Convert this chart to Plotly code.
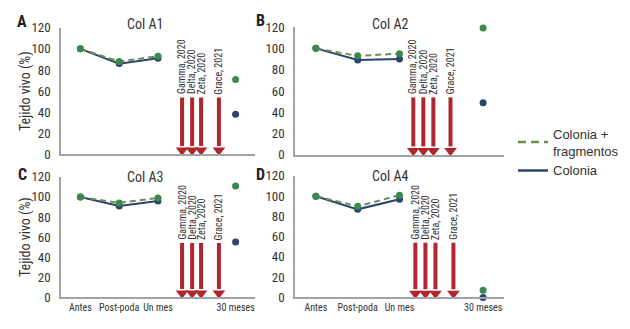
import plotly.graph_objects as go

# ---------------- data ----------------
categories = ["Antes", "Post-poda", "Un mes", "30 meses"]
cat_pos = [0, 1, 2, 4]

panels = ["Col A1", "Col A2", "Col A3", "Col A4"]
letters = ["A", "B", "C", "D"]

frag_A1 = [100, 88, 93, 71]
col_A1 = [100, 86, 91, 38]
frag_A2 = [100, 93, 95, 119]
col_A2 = [100, 89, 90, 49]
frag_A3 = [100, 94, 99, 111]
col_A3 = [100, 91, 96, 55]
frag_A4 = [100, 90, 101, 7]
col_A4 = [100, 87, 97, 0]

event_labels = ["Gamma, 2020", "Delta, 2020", "Zeta, 2020", "Grace, 2021"]
events_A1 = [2.62, 2.88, 3.11, 3.57]
events_A2 = [2.33, 2.57, 2.81, 3.22]
events_A3 = [2.62, 2.88, 3.11, 3.57]
events_A4 = [2.38, 2.62, 2.86, 3.29]

y_ticks = [0, 20, 40, 60, 80, 100, 120]

# ---------------- style ----------------
W, H = 630, 329
FONT = "Liberation Sans Narrow, Roboto Condensed, Arial Narrow, Roboto, sans-serif"
LEG_FONT = "Liberation Sans, Arial, sans-serif"
GREEN = "#3c8a4a"
OLIVE = "#6f8f52"
BLUE = "#2b4470"
RED = "#b0262c"
AXIS = "#a3a3a3"
TXT = "#333333"

def px_x(a, b):
    return [a / W, b / W]

def px_y(bottom, top):
    return [1 - bottom / H, 1 - top / H]

domains = [
    (px_x(61, 255), px_y(154.5, 21.7)),
    (px_x(295, 504), px_y(155, 21)),
    (px_x(61, 255), px_y(304, 178)),
    (px_x(295, 504), px_y(304.3, 177)),
]
frag_series = [frag_A1, frag_A2, frag_A3, frag_A4]
col_series = [col_A1, col_A2, col_A3, col_A4]
event_series = [events_A1, events_A2, events_A3, events_A4]
letter_pos = [(22, 15), (260, 14), (22, 175), (260, 176)]
title_pos = [(145, 18), (390, 18), (145, 178), (390, 177)]

fig = go.Figure()
annotations = []
shapes = []
layout = {}

for i in range(4):
    sfx = "" if i == 0 else str(i + 1)
    xa, ya = "x" + sfx, "y" + sfx
    fr, co, ev = frag_series[i], col_series[i], event_series[i]

    # Colonia line
    fig.add_trace(go.Scatter(x=cat_pos[:3], y=co[:3], xaxis=xa, yaxis=ya, mode="lines+markers",
                             line=dict(color=BLUE, width=2), marker=dict(color=BLUE, size=7),
                             showlegend=False, cliponaxis=False, hoverinfo="skip"))
    # Colonia + fragmentos
    fig.add_trace(go.Scatter(x=cat_pos[:3], y=fr[:3], xaxis=xa, yaxis=ya, mode="lines",
                             line=dict(color=OLIVE, width=2, dash="6px,4px"),
                             showlegend=False, cliponaxis=False, hoverinfo="skip"))
    fig.add_trace(go.Scatter(x=cat_pos[:3], y=fr[:3], xaxis=xa, yaxis=ya, mode="markers",
                             marker=dict(color=GREEN, size=7),
                             showlegend=False, cliponaxis=False, hoverinfo="skip"))
    # 30 meses
    fig.add_trace(go.Scatter(x=[cat_pos[3]], y=[co[3]], xaxis=xa, yaxis=ya, mode="markers",
                             marker=dict(color=BLUE, size=7), showlegend=False,
                             cliponaxis=False, hoverinfo="skip"))
    fig.add_trace(go.Scatter(x=[cat_pos[3]], y=[fr[3]], xaxis=xa, yaxis=ya, mode="markers",
                             marker=dict(color=GREEN, size=7), showlegend=False,
                             cliponaxis=False, hoverinfo="skip"))

    # event arrows
    for ex, lab in zip(ev, event_labels):
        shapes.append(dict(type="line", xref=xa, yref=ya, x0=ex, x1=ex, y0=54, y1=8,
                           line=dict(color=RED, width=4)))
        annotations.append(dict(xref=xa, yref=ya, x=ex, y=55, text=lab, showarrow=False,
                                textangle=-90, xanchor="center", yanchor="bottom",
                                font=dict(family=FONT, size=10, color=TXT)))
    fig.add_trace(go.Scatter(x=ev, y=[4] * len(ev), xaxis=xa, yaxis=ya, mode="markers",
                             marker=dict(symbol="triangle-down", color=RED, size=11),
                             showlegend=False, cliponaxis=False, hoverinfo="skip"))

    bottom = i >= 2
    layout["xaxis" + sfx] = dict(domain=domains[i][0], anchor=ya, range=[-0.5, 4.5],
                                 showgrid=False, zeroline=False, showline=True,
                                 linecolor=AXIS, linewidth=1.5, ticks="",
                                 tickvals=cat_pos, ticktext=categories,
                                 showticklabels=bottom, tickangle=0,
                                 tickfont=dict(family=FONT, size=10, color=TXT))
    layout["yaxis" + sfx] = dict(domain=domains[i][1], anchor=xa, range=[0, 120],
                                 showgrid=False, zeroline=False, showline=True,
                                 linecolor=AXIS, linewidth=1.5, ticks="",
                                 tickvals=y_ticks, ticklabelstandoff=6,
                                 tickfont=dict(family=FONT, size=13, color=TXT))

    # panel title
    tx, ty = title_pos[i]
    annotations.append(dict(xref="paper", yref="paper", x=tx / W, y=1 - ty / H,
                            text=panels[i], showarrow=False,
                            xanchor="center", yanchor="middle",
                            font=dict(family=FONT, size=14, color=TXT)))
    # panel letter
    lx, ly = letter_pos[i]
    annotations.append(dict(xref="paper", yref="paper", x=lx / W, y=1 - ly / H,
                            text="<b>" + letters[i] + "</b>", showarrow=False,
                            xanchor="center", yanchor="middle",
                            font=dict(family=FONT, size=16, color="#222222")))
    if i in (0, 2):
        yd = domains[i][1]
        annotations.append(dict(xref="paper", yref="paper", x=25 / W, y=(yd[0] + yd[1]) / 2,
                                text="Tejido vivo (%)", showarrow=False, textangle=-90,
                                xanchor="center", yanchor="middle",
                                font=dict(family=FONT, size=14, color=TXT)))

# legend entries
fig.add_trace(go.Scatter(x=[None], y=[None], mode="lines", name="Colonia +<br>fragmentos",
                         line=dict(color=OLIVE, width=2.5, dash="8px,5px")))
fig.add_trace(go.Scatter(x=[None], y=[None], mode="lines", name="Colonia",
                         line=dict(color=BLUE, width=2.5)))

fig.update_layout(
    width=W, height=H,
    margin=dict(l=0, r=0, t=0, b=0),
    paper_bgcolor="white", plot_bgcolor="white",
    font=dict(family=FONT, color=TXT),
    showlegend=True,
    legend=dict(x=513 / W, y=1 - 117 / H, xanchor="left", yanchor="top",
                bgcolor="rgba(0,0,0,0)", font=dict(family=LEG_FONT, size=13, color=TXT),
                tracegroupgap=0, itemwidth=30),
    annotations=annotations,
    shapes=shapes,
    **layout,
)

fig.write_html("out.html", config={"displayModeBar": False},
               post_script="document.body.style.margin='0';document.body.style.overflow='hidden';")
